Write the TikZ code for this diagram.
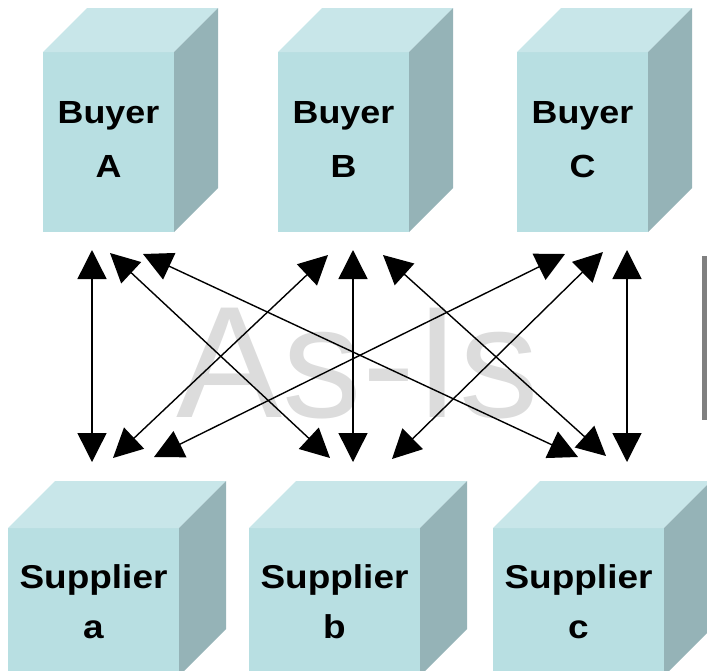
\documentclass[tikz,border=0pt]{standalone}
\usepackage{fontspec}
\setmainfont{Liberation Sans}
\newfontfamily\boxfont{Liberation Sans}[FakeStretch=1.12]
\usepackage{tikz}
\usetikzlibrary{positioning}
\usetikzlibrary{arrows.meta}
\definecolor{frontcol}{HTML}{B8DFE2}
\definecolor{topcol}{HTML}{C8E6E9}
\definecolor{sidecol}{HTML}{95B3B7}
\definecolor{markcol}{HTML}{DCDCDC}
\definecolor{barcol}{HTML}{808080}

\begin{document}
\begin{tikzpicture} [x=1pt, y=-1pt, line width=1.4pt,
        buyer/.style = {fill=frontcol, minimum width=131pt, minimum height=180pt, inner sep=0pt, outer sep=0pt, align=center, text depth=6pt, font=\boxfont\bfseries\fontsize{32}{54}\selectfont},
        supplier/.style = {fill=frontcol, minimum width=171pt, minimum height=148pt, inner sep=0pt, outer sep=0pt, align=center, font=\boxfont\bfseries\fontsize{33}{50}\selectfont},
        watermark/.style = {text=markcol, anchor=base, inner sep=0pt, font=\fontsize{159}{159}\selectfont},
        link/.style = {{Triangle[length=29pt, width=29pt]}-{Triangle[length=29pt, width=29pt]}}]
        \useasboundingbox (0,0) rectangle (707,670);
        \clip (0,0) rectangle (707,670);

        %Boxen
        \node[buyer] (A) at (108.5,142) {Buyer\\A};
        \node[buyer] (B) [right = 104pt of A] {Buyer\\B};
        \node[buyer] (C) [right = 108pt of B] {Buyer\\C};

        \node[supplier] (a) at (93.5,602) {Supplier\\a};
        \node[supplier] (b) [right = 70pt of a] {Supplier\\b};
        \node[supplier] (c) [right = 73pt of b] {Supplier\\c};

        \fill[topcol] (A.north west) -- ++(44,-44) -- ([shift={(44,-44)}]A.north east) -- (A.north east) -- cycle;
        \fill[sidecol] (A.north east) -- ++(44,-44) -- ([shift={(44,-44)}]A.south east) -- (A.south east) -- cycle;
        \fill[topcol] (B.north west) -- ++(44,-44) -- ([shift={(44,-44)}]B.north east) -- (B.north east) -- cycle;
        \fill[sidecol] (B.north east) -- ++(44,-44) -- ([shift={(44,-44)}]B.south east) -- (B.south east) -- cycle;
        \fill[topcol] (C.north west) -- ++(44,-44) -- ([shift={(44,-44)}]C.north east) -- (C.north east) -- cycle;
        \fill[sidecol] (C.north east) -- ++(44,-44) -- ([shift={(44,-44)}]C.south east) -- (C.south east) -- cycle;
        \fill[topcol] (a.north west) -- ++(47,-47) -- ([shift={(47,-47)}]a.north east) -- (a.north east) -- cycle;
        \fill[sidecol] (a.north east) -- ++(47,-47) -- ([shift={(47,-47)}]a.south east) -- (a.south east) -- cycle;
        \fill[topcol] (b.north west) -- ++(47,-47) -- ([shift={(47,-47)}]b.north east) -- (b.north east) -- cycle;
        \fill[sidecol] (b.north east) -- ++(47,-47) -- ([shift={(47,-47)}]b.south east) -- (b.south east) -- cycle;
        \fill[topcol] (c.north west) -- ++(47,-47) -- ([shift={(47,-47)}]c.north east) -- (c.north east) -- cycle;
        \fill[sidecol] (c.north east) -- ++(47,-47) -- ([shift={(47,-47)}]c.south east) -- (c.south east) -- cycle;

        \node[watermark] (asis) at (358,417) {As-Is};
        \fill[barcol] (702,256) rectangle (707,420);

        %Enden
        \coordinate (Aa) at (92,250);   \coordinate (aA) at (92,462);
        \coordinate (Ab) at (110,253);  \coordinate (bA) at (330,458);
        \coordinate (Ac) at (143,254);  \coordinate (cA) at (578,457);
        \coordinate (Ba) at (328,255);  \coordinate (aB) at (113,458);
        \coordinate (Bb) at (353,250);  \coordinate (bB) at (353,462);
        \coordinate (Bc) at (383,255);  \coordinate (cB) at (606,456);
        \coordinate (Ca) at (565,254);  \coordinate (aC) at (154,457);
        \coordinate (Cb) at (603,252);  \coordinate (bC) at (392,459);
        \coordinate (Cc) at (627,250);  \coordinate (cC) at (627,462);

        %Pfeile
        \draw[link] (Aa) -- (aA);
        \draw[link] (Ab) -- (bA);
        \draw[link] (Ac) -- (cA);
        \draw[link] (Ba) -- (aB);
        \draw[link] (Bb) -- (bB);
        \draw[link] (Bc) -- (cB);
        \draw[link] (Ca) -- (aC);
        \draw[link] (Cb) -- (bC);
        \draw[link] (Cc) -- (cC);

    \end{tikzpicture}
\end{document}
